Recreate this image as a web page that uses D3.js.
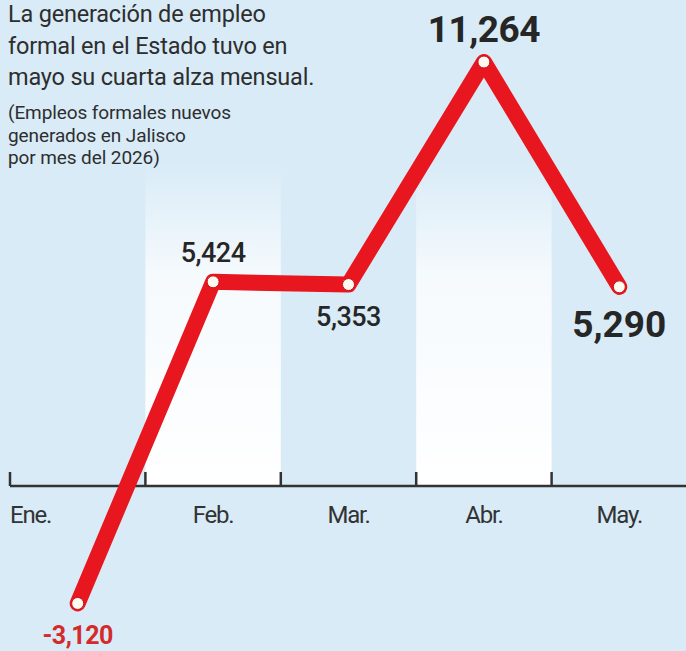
<!DOCTYPE html>
<html>
<head>
<meta charset="utf-8">
<script src="https://cdn.jsdelivr.net/npm/d3@7"></script>
<style>
  body { margin: 0; background: #d8ebf7; }
  text { font-family: Roboto, "Noto Sans", sans-serif; }
</style>
</head>
<body>
<script>
// datos: empleos formales nuevos en Jalisco, 2026
var months = ["Ene.", "Feb.", "Mar.", "Abr.", "May."];
var values = [-3120, 5424, 5353, 11264, 5290];
var highlighted = ["Feb.", "Abr."];
var titleLines = ["La generación de empleo", "formal en el Estado tuvo en", "mayo su cuarta alza mensual."];
var noteLines = ["(Empleos formales nuevos", "generados en Jalisco", "por mes del 2026)"];
// donde va cada etiqueta y que tan grande
var labelPos = ["below", "above", "below", "above", "below"];
var labelBig = [false, false, false, true, true];

var width = 686, height = 651;
var svg = d3.select("body").append("svg").attr("width", width).attr("height", height);

var x = d3.scaleBand().domain(months).range([10, 687]).padding(0);
var y = d3.scaleLinear().domain([0, d3.max(values)]).range([486, 62]);
var fmt = d3.formatLocale({decimal: ".", thousands: ",", grouping: [3], currency: ["$", ""], minus: "-"}).format(",");

var defs = svg.append("defs");
var grad = defs.append("linearGradient").attr("id", "col").attr("x1", 0).attr("x2", 0).attr("y1", 0).attr("y2", 1);
grad.append("stop").attr("offset", 0).attr("stop-color", "#fff").attr("stop-opacity", 0);
grad.append("stop").attr("offset", 0.35).attr("stop-color", "#fff").attr("stop-opacity", 0.75);
grad.append("stop").attr("offset", 1).attr("stop-color", "#fff").attr("stop-opacity", 1);

// columnas claras
svg.selectAll(".col").data(highlighted).enter().append("rect")
  .attr("x", function(d) { return x(d); })
  .attr("y", 160)
  .attr("width", x.bandwidth())
  .attr("height", y(0) - 160)
  .attr("fill", "url(#col)");

// titulo
svg.selectAll(".title").data(titleLines).enter().append("text")
  .attr("x", 8).attr("y", function(d, i) { return 22 + i * 31.5; })
  .attr("font-size", 23.5).attr("fill", "#2e2e2e").attr("letter-spacing", -0.2)
  .text(function(d) { return d; });

svg.selectAll(".note").data(noteLines).enter().append("text")
  .attr("x", 8).attr("y", function(d, i) { return 119 + i * 22.5; })
  .attr("font-size", 19).attr("fill", "#2e2e2e").attr("letter-spacing", -0.1)
  .text(function(d) { return d; });

// eje
svg.append("line")
  .attr("x1", x.range()[0]).attr("x2", width)
  .attr("y1", y(0)).attr("y2", y(0))
  .attr("stroke", "#333").attr("stroke-width", 2.5);

svg.selectAll(".tick").data(months).enter().append("line")
  .attr("x1", function(d) { return x(d); }).attr("x2", function(d) { return x(d); })
  .attr("y1", y(0)).attr("y2", y(0) - 14)
  .attr("stroke", "#333").attr("stroke-width", 2.5);

svg.selectAll(".month").data(months).enter().append("text")
  .attr("x", function(d, i) { return i === 0 ? x(d) : x(d) + x.bandwidth() / 2; })
  .attr("y", y(0) + 37)
  .attr("text-anchor", function(d, i) { return i === 0 ? "start" : "middle"; })
  .attr("font-size", 24).attr("fill", "#333").attr("letter-spacing", -1.2)
  .text(function(d) { return d; });

// linea
var line = d3.line()
  .x(function(d, i) { return x(months[i]) + x.bandwidth() / 2; })
  .y(function(d) { return y(d); });

svg.append("path").datum(values)
  .attr("d", line)
  .attr("fill", "none")
  .attr("stroke", "#e8161e")
  .attr("stroke-width", 16)
  .attr("stroke-linejoin", "round")
  .attr("stroke-linecap", "round");

svg.selectAll(".dot").data(values).enter().append("circle")
  .attr("cx", function(d, i) { return x(months[i]) + x.bandwidth() / 2; })
  .attr("cy", function(d) { return y(d); })
  .attr("r", 6)
  .attr("fill", "#fffaf0")
  .attr("stroke", "#c8101a").attr("stroke-width", 1);

svg.selectAll(".val").data(values).enter().append("text")
  .attr("x", function(d, i) { return x(months[i]) + x.bandwidth() / 2; })
  .attr("y", function(d, i) {
    if (labelPos[i] === "above") return y(d) - 20;
    return y(d) + (labelBig[i] ? 50 : 41);
  })
  .attr("text-anchor", "middle")
  .attr("font-size", function(d, i) { return labelBig[i] ? 37 : (d < 0 ? 25 : 27); })
  .attr("font-weight", function(d, i) { return labelBig[i] || d < 0 ? 700 : 500; })
  .attr("letter-spacing", function(d, i) { return labelBig[i] && d < 10000 ? 0 : -0.5; })
  .attr("fill", function(d) { return d < 0 ? "#d42a2a" : "#262626"; })
  .text(function(d) { return fmt(d); });
</script>
</body>
</html>
